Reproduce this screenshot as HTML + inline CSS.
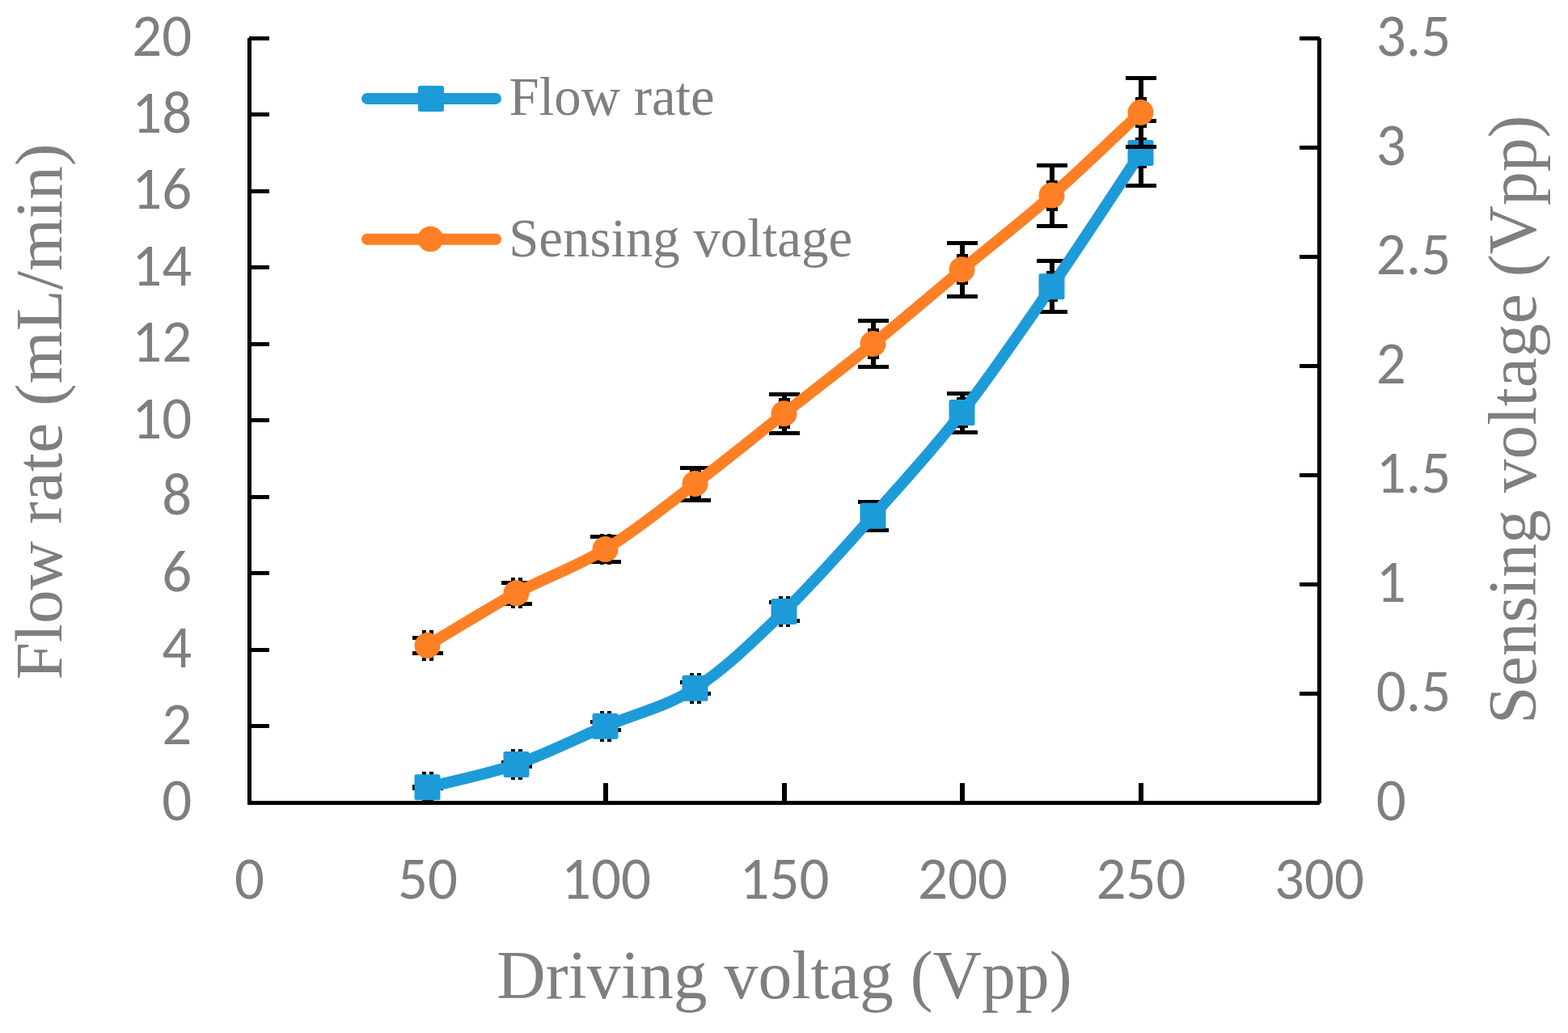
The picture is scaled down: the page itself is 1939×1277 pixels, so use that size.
<!DOCTYPE html>
<html><head><meta charset="utf-8"><title>Flow rate and sensing voltage vs driving voltage</title>
<style>html,body{margin:0;padding:0;background:#fff;}body{width:1939px;height:1277px;overflow:hidden;}svg{display:block;}</style>
</head><body>
<svg width="1939" height="1277" viewBox="0 0 1939 1277">
<rect width="1939" height="1277" fill="#fff"/>
<g shape-rendering="crispEdges">
<rect x="306.00" y="47.00" width="5.00" height="948.00" fill="#000"/>
<rect x="1629.00" y="47.00" width="5.00" height="946.00" fill="#000"/>
<rect x="306.00" y="990.00" width="1326.00" height="5.00" fill="#000"/>
<rect x="308.00" y="45.00" width="25.00" height="5.00" fill="#000"/>
<rect x="308.00" y="139.00" width="25.00" height="5.00" fill="#000"/>
<rect x="308.00" y="234.00" width="25.00" height="5.00" fill="#000"/>
<rect x="308.00" y="328.00" width="25.00" height="5.00" fill="#000"/>
<rect x="308.00" y="423.00" width="25.00" height="5.00" fill="#000"/>
<rect x="308.00" y="517.00" width="25.00" height="5.00" fill="#000"/>
<rect x="308.00" y="612.00" width="25.00" height="5.00" fill="#000"/>
<rect x="308.00" y="706.00" width="25.00" height="5.00" fill="#000"/>
<rect x="308.00" y="801.00" width="25.00" height="5.00" fill="#000"/>
<rect x="308.00" y="895.00" width="25.00" height="5.00" fill="#000"/>
<rect x="308.00" y="990.00" width="25.00" height="5.00" fill="#000"/>
<rect x="1607.00" y="45.00" width="25.00" height="5.00" fill="#000"/>
<rect x="1607.00" y="180.00" width="25.00" height="5.00" fill="#000"/>
<rect x="1607.00" y="315.00" width="25.00" height="5.00" fill="#000"/>
<rect x="1607.00" y="450.00" width="25.00" height="5.00" fill="#000"/>
<rect x="1607.00" y="585.00" width="25.00" height="5.00" fill="#000"/>
<rect x="1607.00" y="720.00" width="25.00" height="5.00" fill="#000"/>
<rect x="1607.00" y="855.00" width="25.00" height="5.00" fill="#000"/>
<rect x="1607.00" y="990.00" width="25.00" height="5.00" fill="#000"/>
<rect x="526.00" y="968.00" width="6.00" height="23.00" fill="#000"/>
<rect x="746.00" y="968.00" width="6.00" height="23.00" fill="#000"/>
<rect x="967.00" y="968.00" width="6.00" height="23.00" fill="#000"/>
<rect x="1187.00" y="968.00" width="6.00" height="23.00" fill="#000"/>
<rect x="1408.00" y="968.00" width="6.00" height="23.00" fill="#000"/>
</g>
<g font-family="Carlito, 'Liberation Sans', sans-serif" font-size="73" fill="#7f7f7f" style="font-size-adjust: cap-height 0.6416">
<text x="237.2" y="69.3" text-anchor="end">20</text>
<text x="237.2" y="163.8" text-anchor="end">18</text>
<text x="237.2" y="258.3" text-anchor="end">16</text>
<text x="237.2" y="352.8" text-anchor="end">14</text>
<text x="237.2" y="447.3" text-anchor="end">12</text>
<text x="237.2" y="541.8" text-anchor="end">10</text>
<text x="237.2" y="636.3" text-anchor="end">8</text>
<text x="237.2" y="730.8" text-anchor="end">6</text>
<text x="237.2" y="825.3" text-anchor="end">4</text>
<text x="237.2" y="919.8" text-anchor="end">2</text>
<text x="237.2" y="1014.3" text-anchor="end">0</text>
<text x="1701.8" y="69.3">3.5</text>
<text x="1701.8" y="204.3">3</text>
<text x="1701.8" y="339.3">2.5</text>
<text x="1701.8" y="474.3">2</text>
<text x="1701.8" y="609.3">1.5</text>
<text x="1701.8" y="744.3">1</text>
<text x="1701.8" y="879.3">0.5</text>
<text x="1701.8" y="1014.3">0</text>
<text x="308.5" y="1111.3" text-anchor="middle">0</text>
<text x="529.0" y="1111.3" text-anchor="middle">50</text>
<text x="749.5" y="1111.3" text-anchor="middle">100</text>
<text x="970.0" y="1111.3" text-anchor="middle">150</text>
<text x="1190.5" y="1111.3" text-anchor="middle">200</text>
<text x="1411.0" y="1111.3" text-anchor="middle">250</text>
<text x="1631.5" y="1111.3" text-anchor="middle">300</text>
</g>
<g>
<g shape-rendering="crispEdges"><rect x="522.00" y="954.30" width="5.00" height="5.00" fill="#000"/>
<rect x="531.00" y="954.30" width="5.00" height="5.00" fill="#000"/>
<rect x="522.00" y="987.30" width="5.00" height="5.00" fill="#000"/>
<rect x="531.00" y="987.30" width="5.00" height="5.00" fill="#000"/>
<rect x="526.00" y="972.20" width="6.00" height="2.20" fill="#000"/>
<rect x="510.00" y="969.70" width="38.00" height="5.00" fill="#000"/>
<rect x="510.00" y="971.90" width="38.00" height="5.00" fill="#000"/>
<rect x="632.00" y="925.90" width="5.00" height="5.00" fill="#000"/>
<rect x="641.00" y="925.90" width="5.00" height="5.00" fill="#000"/>
<rect x="632.00" y="958.90" width="5.00" height="5.00" fill="#000"/>
<rect x="641.00" y="958.90" width="5.00" height="5.00" fill="#000"/>
<rect x="636.00" y="942.40" width="6.00" height="5.00" fill="#000"/>
<rect x="620.00" y="939.90" width="38.00" height="5.00" fill="#000"/>
<rect x="620.00" y="944.90" width="38.00" height="5.00" fill="#000"/>
<rect x="742.00" y="878.80" width="5.00" height="5.00" fill="#000"/>
<rect x="751.00" y="878.80" width="5.00" height="5.00" fill="#000"/>
<rect x="742.00" y="911.80" width="5.00" height="5.00" fill="#000"/>
<rect x="751.00" y="911.80" width="5.00" height="5.00" fill="#000"/>
<rect x="746.00" y="892.80" width="6.00" height="10.00" fill="#000"/>
<rect x="730.00" y="890.30" width="38.00" height="5.00" fill="#000"/>
<rect x="730.00" y="900.30" width="38.00" height="5.00" fill="#000"/>
<rect x="853.00" y="831.80" width="5.00" height="5.00" fill="#000"/>
<rect x="862.00" y="831.80" width="5.00" height="5.00" fill="#000"/>
<rect x="853.00" y="864.80" width="5.00" height="5.00" fill="#000"/>
<rect x="862.00" y="864.80" width="5.00" height="5.00" fill="#000"/>
<rect x="857.00" y="843.80" width="6.00" height="14.00" fill="#000"/>
<rect x="841.00" y="841.30" width="38.00" height="5.00" fill="#000"/>
<rect x="841.00" y="855.30" width="38.00" height="5.00" fill="#000"/>
<rect x="963.00" y="737.00" width="5.00" height="5.00" fill="#000"/>
<rect x="972.00" y="737.00" width="5.00" height="5.00" fill="#000"/>
<rect x="963.00" y="770.00" width="5.00" height="5.00" fill="#000"/>
<rect x="972.00" y="770.00" width="5.00" height="5.00" fill="#000"/>
<rect x="967.00" y="744.50" width="6.00" height="23.00" fill="#000"/>
<rect x="951.00" y="742.00" width="38.00" height="5.00" fill="#000"/>
<rect x="951.00" y="765.00" width="38.00" height="5.00" fill="#000"/>
<rect x="1073.00" y="618.80" width="5.00" height="5.00" fill="#000"/>
<rect x="1082.00" y="618.80" width="5.00" height="5.00" fill="#000"/>
<rect x="1073.00" y="651.80" width="5.00" height="5.00" fill="#000"/>
<rect x="1082.00" y="651.80" width="5.00" height="5.00" fill="#000"/>
<rect x="1077.00" y="620.30" width="6.00" height="35.00" fill="#000"/>
<rect x="1061.00" y="617.80" width="38.00" height="5.00" fill="#000"/>
<rect x="1061.00" y="652.80" width="38.00" height="5.00" fill="#000"/>
<rect x="1183.00" y="491.00" width="5.00" height="5.00" fill="#000"/>
<rect x="1192.00" y="491.00" width="5.00" height="5.00" fill="#000"/>
<rect x="1183.00" y="524.00" width="5.00" height="5.00" fill="#000"/>
<rect x="1192.00" y="524.00" width="5.00" height="5.00" fill="#000"/>
<rect x="1187.00" y="486.00" width="6.00" height="48.00" fill="#000"/>
<rect x="1171.00" y="483.50" width="38.00" height="5.00" fill="#000"/>
<rect x="1171.00" y="531.50" width="38.00" height="5.00" fill="#000"/>
<rect x="1294.00" y="335.20" width="5.00" height="5.00" fill="#000"/>
<rect x="1303.00" y="335.20" width="5.00" height="5.00" fill="#000"/>
<rect x="1294.00" y="368.20" width="5.00" height="5.00" fill="#000"/>
<rect x="1303.00" y="368.20" width="5.00" height="5.00" fill="#000"/>
<rect x="1298.00" y="322.50" width="6.00" height="63.40" fill="#000"/>
<rect x="1282.00" y="320.00" width="38.00" height="5.00" fill="#000"/>
<rect x="1282.00" y="383.40" width="38.00" height="5.00" fill="#000"/>
<rect x="1404.00" y="170.00" width="5.00" height="5.00" fill="#000"/>
<rect x="1413.00" y="170.00" width="5.00" height="5.00" fill="#000"/>
<rect x="1404.00" y="203.00" width="5.00" height="5.00" fill="#000"/>
<rect x="1413.00" y="203.00" width="5.00" height="5.00" fill="#000"/>
<rect x="1408.00" y="149.00" width="6.00" height="80.00" fill="#000"/>
<rect x="1392.00" y="146.50" width="38.00" height="5.00" fill="#000"/>
<rect x="1392.00" y="226.50" width="38.00" height="5.00" fill="#000"/></g>
<path d="M528.50,973.30 C546.83,968.57 601.83,957.48 638.50,944.90 C675.17,932.32 711.67,913.48 748.50,897.80 C785.33,882.12 822.67,874.43 859.50,850.80 C896.33,827.17 932.83,791.50 969.50,756.00 C1006.17,720.50 1042.83,678.80 1079.50,637.80 C1116.17,596.80 1152.67,557.27 1189.50,510.00 C1226.33,462.73 1263.67,407.70 1300.50,354.20 C1337.33,300.70 1392.17,216.53 1410.50,189.00" fill="none" stroke="#1D9BD9" stroke-width="14" stroke-linejoin="round" stroke-linecap="round"/>
<rect x="512.50" y="957.30" width="32" height="32" rx="2.5" fill="#1D9BD9"/>
<rect x="622.50" y="928.90" width="32" height="32" rx="2.5" fill="#1D9BD9"/>
<rect x="732.50" y="881.80" width="32" height="32" rx="2.5" fill="#1D9BD9"/>
<rect x="843.50" y="834.80" width="32" height="32" rx="2.5" fill="#1D9BD9"/>
<rect x="953.50" y="740.00" width="32" height="32" rx="2.5" fill="#1D9BD9"/>
<rect x="1063.50" y="621.80" width="32" height="32" rx="2.5" fill="#1D9BD9"/>
<rect x="1173.50" y="494.00" width="32" height="32" rx="2.5" fill="#1D9BD9"/>
<rect x="1284.50" y="338.20" width="32" height="32" rx="2.5" fill="#1D9BD9"/>
<rect x="1394.50" y="173.00" width="32" height="32" rx="2.5" fill="#1D9BD9"/>
<g shape-rendering="crispEdges"><rect x="522.00" y="779.00" width="5.00" height="5.00" fill="#000"/>
<rect x="531.00" y="779.00" width="5.00" height="5.00" fill="#000"/>
<rect x="522.00" y="812.00" width="5.00" height="5.00" fill="#000"/>
<rect x="531.00" y="812.00" width="5.00" height="5.00" fill="#000"/>
<rect x="526.00" y="788.25" width="6.00" height="19.50" fill="#000"/>
<rect x="510.00" y="785.75" width="38.00" height="5.00" fill="#000"/>
<rect x="510.00" y="805.25" width="38.00" height="5.00" fill="#000"/>
<rect x="632.00" y="714.20" width="5.00" height="5.00" fill="#000"/>
<rect x="641.00" y="714.20" width="5.00" height="5.00" fill="#000"/>
<rect x="632.00" y="747.20" width="5.00" height="5.00" fill="#000"/>
<rect x="641.00" y="747.20" width="5.00" height="5.00" fill="#000"/>
<rect x="636.00" y="720.20" width="6.00" height="26.00" fill="#000"/>
<rect x="620.00" y="717.70" width="38.00" height="5.00" fill="#000"/>
<rect x="620.00" y="743.70" width="38.00" height="5.00" fill="#000"/>
<rect x="742.00" y="660.00" width="5.00" height="5.00" fill="#000"/>
<rect x="751.00" y="660.00" width="5.00" height="5.00" fill="#000"/>
<rect x="742.00" y="693.00" width="5.00" height="5.00" fill="#000"/>
<rect x="751.00" y="693.00" width="5.00" height="5.00" fill="#000"/>
<rect x="746.00" y="663.50" width="6.00" height="31.00" fill="#000"/>
<rect x="730.00" y="661.00" width="38.00" height="5.00" fill="#000"/>
<rect x="730.00" y="692.00" width="38.00" height="5.00" fill="#000"/>
<rect x="853.00" y="579.00" width="5.00" height="5.00" fill="#000"/>
<rect x="862.00" y="579.00" width="5.00" height="5.00" fill="#000"/>
<rect x="853.00" y="612.00" width="5.00" height="5.00" fill="#000"/>
<rect x="862.00" y="612.00" width="5.00" height="5.00" fill="#000"/>
<rect x="857.00" y="578.00" width="6.00" height="40.00" fill="#000"/>
<rect x="841.00" y="575.50" width="38.00" height="5.00" fill="#000"/>
<rect x="841.00" y="615.50" width="38.00" height="5.00" fill="#000"/>
<rect x="963.00" y="492.30" width="5.00" height="5.00" fill="#000"/>
<rect x="972.00" y="492.30" width="5.00" height="5.00" fill="#000"/>
<rect x="963.00" y="525.30" width="5.00" height="5.00" fill="#000"/>
<rect x="972.00" y="525.30" width="5.00" height="5.00" fill="#000"/>
<rect x="967.00" y="487.30" width="6.00" height="48.00" fill="#000"/>
<rect x="951.00" y="484.80" width="38.00" height="5.00" fill="#000"/>
<rect x="951.00" y="532.80" width="38.00" height="5.00" fill="#000"/>
<rect x="1073.00" y="406.00" width="5.00" height="5.00" fill="#000"/>
<rect x="1082.00" y="406.00" width="5.00" height="5.00" fill="#000"/>
<rect x="1073.00" y="439.00" width="5.00" height="5.00" fill="#000"/>
<rect x="1082.00" y="439.00" width="5.00" height="5.00" fill="#000"/>
<rect x="1077.00" y="396.50" width="6.00" height="57.00" fill="#000"/>
<rect x="1061.00" y="394.00" width="38.00" height="5.00" fill="#000"/>
<rect x="1061.00" y="451.00" width="38.00" height="5.00" fill="#000"/>
<rect x="1183.00" y="314.30" width="5.00" height="5.00" fill="#000"/>
<rect x="1192.00" y="314.30" width="5.00" height="5.00" fill="#000"/>
<rect x="1183.00" y="347.30" width="5.00" height="5.00" fill="#000"/>
<rect x="1192.00" y="347.30" width="5.00" height="5.00" fill="#000"/>
<rect x="1187.00" y="300.30" width="6.00" height="66.00" fill="#000"/>
<rect x="1171.00" y="297.80" width="38.00" height="5.00" fill="#000"/>
<rect x="1171.00" y="363.80" width="38.00" height="5.00" fill="#000"/>
<rect x="1294.00" y="222.60" width="5.00" height="5.00" fill="#000"/>
<rect x="1303.00" y="222.60" width="5.00" height="5.00" fill="#000"/>
<rect x="1294.00" y="255.60" width="5.00" height="5.00" fill="#000"/>
<rect x="1303.00" y="255.60" width="5.00" height="5.00" fill="#000"/>
<rect x="1298.00" y="204.10" width="6.00" height="75.00" fill="#000"/>
<rect x="1282.00" y="201.60" width="38.00" height="5.00" fill="#000"/>
<rect x="1282.00" y="276.60" width="38.00" height="5.00" fill="#000"/>
<rect x="1404.00" y="120.00" width="5.00" height="5.00" fill="#000"/>
<rect x="1413.00" y="120.00" width="5.00" height="5.00" fill="#000"/>
<rect x="1404.00" y="153.00" width="5.00" height="5.00" fill="#000"/>
<rect x="1413.00" y="153.00" width="5.00" height="5.00" fill="#000"/>
<rect x="1408.00" y="96.50" width="6.00" height="85.00" fill="#000"/>
<rect x="1392.00" y="94.00" width="38.00" height="5.00" fill="#000"/>
<rect x="1392.00" y="179.00" width="38.00" height="5.00" fill="#000"/></g>
<path d="M528.50,798.00 C546.83,787.20 601.83,753.03 638.50,733.20 C675.17,713.37 711.67,701.53 748.50,679.00 C785.33,656.47 822.67,625.95 859.50,598.00 C896.33,570.05 932.83,540.13 969.50,511.30 C1006.17,482.47 1042.83,454.67 1079.50,425.00 C1116.17,395.33 1152.67,363.87 1189.50,333.30 C1226.33,302.73 1263.67,273.98 1300.50,241.60 C1337.33,209.22 1392.17,156.10 1410.50,139.00" fill="none" stroke="#FF7F24" stroke-width="14" stroke-linejoin="round" stroke-linecap="round"/>
<circle cx="528.50" cy="798.00" r="16" fill="#FF7F24"/>
<circle cx="638.50" cy="733.20" r="16" fill="#FF7F24"/>
<circle cx="748.50" cy="679.00" r="16" fill="#FF7F24"/>
<circle cx="859.50" cy="598.00" r="16" fill="#FF7F24"/>
<circle cx="969.50" cy="511.30" r="16" fill="#FF7F24"/>
<circle cx="1079.50" cy="425.00" r="16" fill="#FF7F24"/>
<circle cx="1189.50" cy="333.30" r="16" fill="#FF7F24"/>
<circle cx="1300.50" cy="241.60" r="16" fill="#FF7F24"/>
<circle cx="1410.50" cy="139.00" r="16" fill="#FF7F24"/>
</g>
<g font-family="'Liberation Serif', 'Times New Roman', serif" fill="#7f7f7f">
<line x1="454" y1="121.9" x2="613" y2="121.9" stroke="#1D9BD9" stroke-width="14" stroke-linecap="round"/>
<rect x="517" y="105.9" width="32" height="32" rx="2.5" fill="#1D9BD9"/>
<line x1="454" y1="295.8" x2="613" y2="295.8" stroke="#FF7F24" stroke-width="14" stroke-linecap="round"/>
<circle cx="532.3" cy="295.5" r="15.8" fill="#FF7F24"/>
<text x="629.6" y="142" font-size="66.8">Flow rate</text>
<text x="629.2" y="316.6" font-size="66.8">Sensing voltage</text>
<text x="614.3" y="1234" font-size="83.7">Driving voltag (Vpp)</text>
<text transform="translate(75.8,840.6) rotate(-90)" font-size="83.5">Flow rate (mL/min)</text>
<text transform="translate(1898.8,894.9) rotate(-90)" font-size="83.6">Sensing voltage (Vpp)</text>
</g>
</svg>
</body></html>
